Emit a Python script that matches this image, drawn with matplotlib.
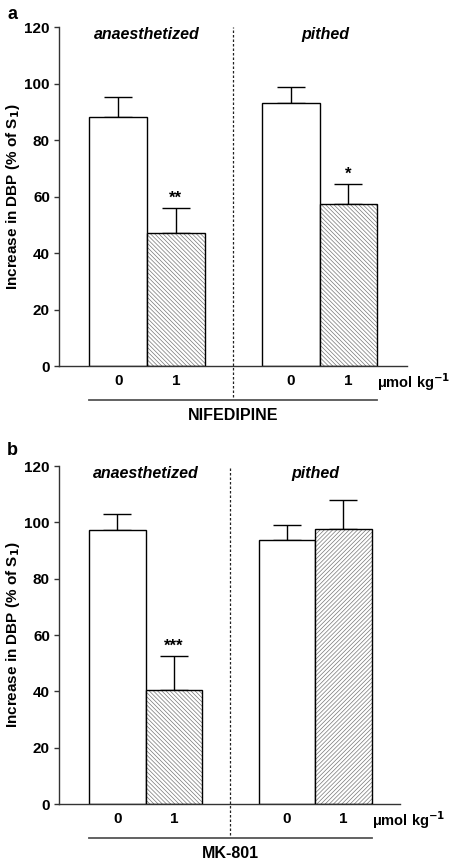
import numpy as np
import matplotlib
matplotlib.use("Agg")
import matplotlib.pyplot as plt

plt.rcParams['font.family'] = ['Liberation Sans', 'DejaVu Sans']
plt.rcParams['font.weight'] = 'bold'
plt.rcParams['hatch.linewidth'] = 0.5

# data
doses = ["0", "1", "0", "1"]
groups = ["anaesthetized", "pithed"]

nif_mean = [88.3, 47.0, 93.3, 57.3]
nif_sem = [7.0, 8.8, 5.4, 7.0]
nif_stars = ["", "**", "", "*"]

mk_mean = [97.4, 40.4, 93.9, 97.6]
mk_sem = [5.5, 12.0, 5.2, 10.2]
mk_stars = ["", "***", "", ""]

pos = [1, 2, 4, 5]

fig = plt.figure(figsize=(4.52, 8.6), dpi=100)
ax1 = fig.add_axes([0.1305, 0.5744, 0.770, 0.394])
ax2 = fig.add_axes([0.1305, 0.0651, 0.754, 0.393])


def panel(ax, mean, sem, stars, drug, hatches, xlim, pithed_x, lab_x):
    for i in range(4):
        if i % 2 == 0:
            ax.bar(pos[i], mean[i], width=1.0, color='white', edgecolor='black',
                   linewidth=1.0, zorder=2)
        else:
            ax.bar(pos[i], mean[i], width=1.0, color='white', edgecolor='#777777',
                   hatch=hatches[i // 2], linewidth=0, zorder=2)
            ax.bar(pos[i], mean[i], width=1.0, color='none', edgecolor='black',
                   linewidth=1.0, zorder=3)
        ax.errorbar(pos[i], mean[i], yerr=[[0], [sem[i]]], fmt='none',
                    ecolor='black', elinewidth=1.0, capsize=10, capthick=1.0, zorder=1)
        if stars[i]:
            ax.text(pos[i], mean[i] + sem[i] + 0.8, stars[i], ha='center', va='bottom',
                    fontsize=12, fontweight='bold')

    ax.set_ylim(0, 120)
    ax.set_xlim(*xlim)
    ax.set_yticks(np.arange(0, 121, 20))
    ax.set_xticks(pos)
    ax.set_xticklabels(doses, fontsize=11, fontweight='bold')
    ax.tick_params(axis='x', length=0, pad=6)
    ax.tick_params(axis='y', length=3.5, width=1.0, pad=3, labelsize=11, color='#333333')
    for lab in ax.get_yticklabels():
        lab.set_fontweight('bold')
    ax.spines['top'].set_visible(False)
    ax.spines['right'].set_visible(False)
    ax.spines['left'].set_color('#333333')
    ax.spines['bottom'].set_color('#333333')
    ax.spines['left'].set_linewidth(1.0)
    ax.spines['bottom'].set_linewidth(1.0)

    ax.set_ylabel("Increase in DBP (% of S$_\\mathbf{1}$)", fontsize=11, fontweight='bold')
    ax.yaxis.set_label_coords(lab_x, 0.5)

    # separator between anaesthetized and pithed
    ax.plot([3, 3], [-11, 120], ls=(0, (2, 1.6)), color='#222222', lw=0.9, clip_on=False)
    ax.text(1.5, 117.5, groups[0], ha='center', va='center', fontsize=11.5,
            fontweight='bold', style='italic')
    ax.text(pithed_x, 117.5, groups[1], ha='center', va='center', fontsize=11.5,
            fontweight='bold', style='italic')

    ax.text(5.5, -5.8, "\u03bcmol kg$^{\\mathbf{-1}}$", ha='left', va='center',
            fontsize=10.5, fontweight='bold')
    ax.plot([0.5, 5.5], [-12, -12], color='#555555', lw=1.3, clip_on=False)
    ax.text(3, -17.7, drug, ha='center', va='center', fontsize=11.5, fontweight='bold')


panel(ax1, nif_mean, nif_sem, nif_stars, "NIFEDIPINE",
      ['\\' * 8, '\\' * 8], (-0.03, 6.02), 4.6, -0.106)
panel(ax2, mk_mean, mk_sem, mk_stars, "MK-801",
      ['\\' * 8, '/' * 8], (-0.035, 6.0), 4.5, -0.108)

fig.text(0.027, 0.983, "a", fontsize=13, fontweight='bold', ha='center', va='center')
fig.text(0.027, 0.4756, "b", fontsize=13, fontweight='bold', ha='center', va='center')

fig.savefig("out.png", dpi=100)
